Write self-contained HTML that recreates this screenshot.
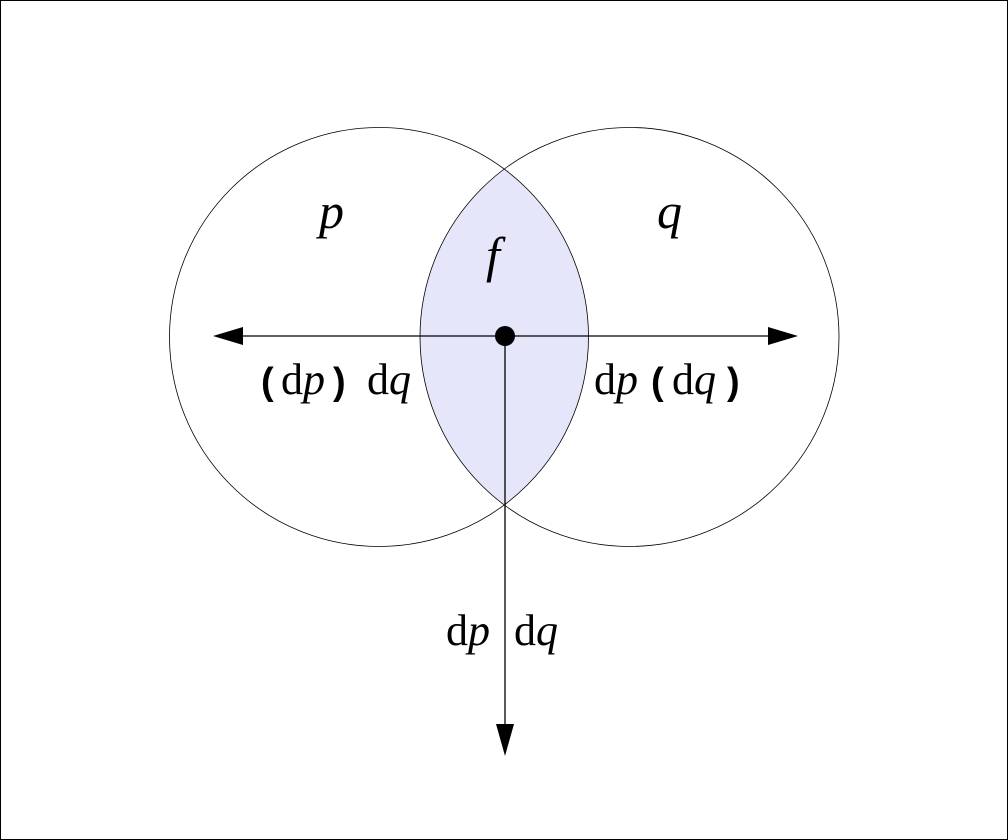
<!DOCTYPE html>
<html><head><style>body{margin:0;background:#fff}svg{display:block}</style></head><body>
<svg width="1008" height="840" viewBox="0 0 1008 840" xmlns="http://www.w3.org/2000/svg" font-family="'Liberation Serif','Noto Serif CJK SC',serif">
<rect x="0.5" y="0.5" width="1007" height="839" fill="#fff" stroke="#000"/>
<defs><clipPath id="c"><circle cx="379" cy="337" r="209.5"/></clipPath></defs>
<circle cx="629.5" cy="337" r="209.5" fill="#e6e6fa" clip-path="url(#c)"/>
<circle cx="379" cy="337" r="209.5" fill="none" stroke="#000" stroke-width="0.8"/>
<circle cx="629.5" cy="337" r="209.5" fill="none" stroke="#000" stroke-width="0.8"/>
<line x1="235" y1="336" x2="778" y2="336" stroke="#000" stroke-width="1.3"/>
<polygon points="213,336 243,327 243,345"/>
<polygon points="798,336 768,327 768,345"/>
<line x1="505" y1="336" x2="505" y2="730" stroke="#000" stroke-width="1.3"/>
<polygon points="505,756 496,724 514,724"/>
<circle cx="505" cy="336" r="10"/>
<g font-size="50" font-style="italic">
<text x="319" y="228">p</text>
<text x="657" y="228">q</text>
<text x="486" y="272">f</text>
</g>
<g font-size="44">
<g font-family="'Liberation Sans',sans-serif" font-weight="bold" font-size="38">
<text x="261" y="394">(</text>
<text x="333" y="394">)</text>
<text x="651" y="394">(</text>
<text x="727" y="394">)</text>
</g>
<text x="281" y="394">d<tspan font-style="italic">p</tspan></text>
<text x="367" y="394">d<tspan font-style="italic">q</tspan></text>
<text x="594" y="394">d<tspan font-style="italic">p</tspan></text>
<text x="672" y="394">d<tspan font-style="italic">q</tspan></text>
<text x="446" y="645">d<tspan font-style="italic">p</tspan></text>
<text x="514" y="645">d<tspan font-style="italic">q</tspan></text>
</g>
</svg>
</body></html>
